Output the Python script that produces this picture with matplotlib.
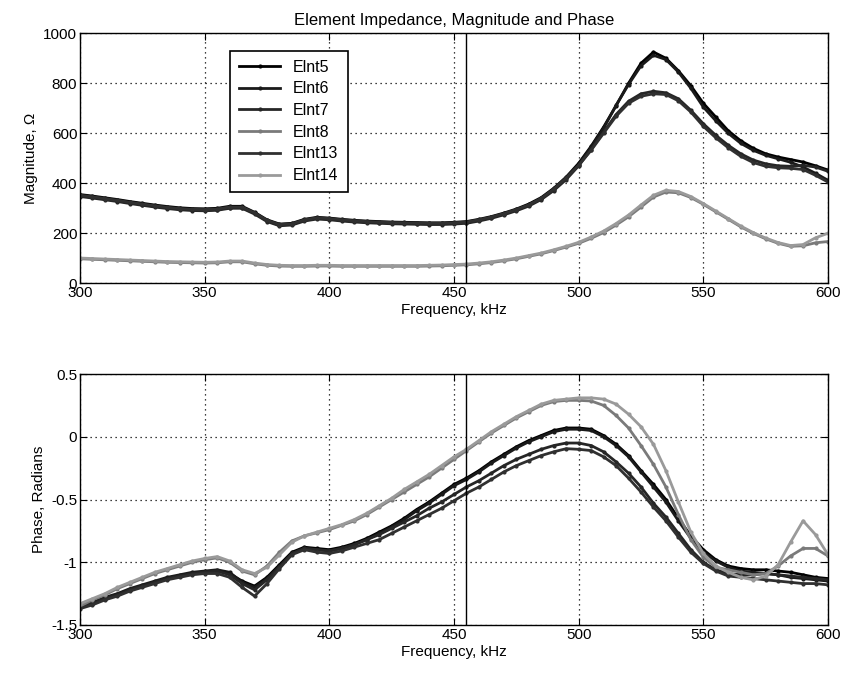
import numpy as np
import matplotlib

matplotlib.use("Agg")
import matplotlib.pyplot as plt

plt.rcParams["font.family"] = ["Liberation Sans", "DejaVu Sans"]

# frequency grid, kHz
freq = np.arange(300, 601, 5)

# impedance magnitude, ohms
mag_elnt5 = [355, 349, 342, 335, 327, 320, 313, 307, 302, 299, 298, 300, 308, 308, 284, 254,
             237, 240, 256, 264, 261, 256, 252, 249, 247, 245, 244, 243, 242, 242, 244, 247,
             256, 267, 281, 297, 317, 343, 380, 425, 480, 548, 625, 710, 800, 880, 925, 900,
             850, 790, 720, 665, 610, 570, 540, 518, 505, 495, 485, 470, 453]
mag_elnt6 = [350, 344, 337, 330, 322, 315, 308, 302, 297, 294, 293, 295, 303, 303, 280, 250,
             233, 236, 252, 260, 257, 252, 248, 245, 243, 241, 240, 239, 238, 238, 240, 243,
             252, 263, 277, 293, 312, 338, 375, 420, 475, 545, 620, 712, 795, 870, 912, 895,
             845, 780, 705, 650, 600, 560, 532, 512, 498, 484, 465, 440, 412]
mag_elnt7 = [347, 341, 334, 327, 319, 312, 305, 299, 294, 291, 290, 292, 300, 300, 277, 247,
             230, 233, 249, 257, 254, 249, 245, 242, 240, 238, 237, 236, 235, 235, 237, 240,
             249, 260, 274, 290, 309, 335, 371, 415, 470, 535, 605, 675, 728, 758, 768, 762,
             738, 692, 638, 592, 552, 518, 493, 478, 470, 468, 472, 465, 448]
mag_elnt13 = [352, 346, 339, 332, 324, 317, 310, 304, 299, 296, 295, 297, 305, 305, 282, 252,
              235, 238, 254, 262, 259, 254, 250, 247, 245, 243, 242, 241, 240, 240, 242, 245,
              254, 265, 279, 295, 314, 340, 377, 422, 472, 532, 600, 668, 720, 748, 758, 755,
              730, 685, 628, 582, 542, 508, 483, 468, 462, 460, 455, 432, 405]
mag_elnt8 = [98, 96, 94, 92, 90, 88, 86, 84, 83, 82, 81, 82, 86, 86, 78, 72,
             69, 68, 68, 69, 69, 68, 68, 68, 68, 68, 68, 68, 69, 70, 72, 74,
             78, 83, 90, 98, 108, 118, 131, 145, 160, 180, 203, 233, 266, 305, 345, 365,
             362, 343, 316, 286, 256, 226, 200, 178, 160, 148, 150, 162, 167]
mag_elnt14 = [101, 99, 97, 95, 93, 91, 89, 87, 86, 85, 84, 85, 89, 89, 81, 75,
              72, 71, 71, 72, 72, 71, 71, 71, 71, 71, 71, 71, 72, 73, 75, 77,
              81, 86, 93, 101, 111, 121, 134, 148, 164, 185, 209, 239, 273, 313, 352, 372,
              367, 347, 319, 289, 259, 229, 203, 181, 163, 151, 155, 182, 200]

# impedance phase, radians
ph_elnt5 = [-1.36, -1.33, -1.29, -1.26, -1.22, -1.19, -1.16, -1.13, -1.11, -1.09, -1.08, -1.07,
            -1.09, -1.15, -1.19, -1.12, -1.02, -0.92, -0.88, -0.89, -0.90, -0.88, -0.85, -0.81,
            -0.76, -0.71, -0.65, -0.58, -0.52, -0.45, -0.38, -0.33, -0.27, -0.20, -0.14, -0.08,
            -0.03, 0.01, 0.05, 0.07, 0.07, 0.06, 0.01, -0.06, -0.15, -0.27, -0.38, -0.50,
            -0.65, -0.79, -0.90, -0.98, -1.03, -1.05, -1.06, -1.06, -1.07, -1.08, -1.10, -1.12,
            -1.13]
ph_elnt6 = [-1.35, -1.32, -1.28, -1.25, -1.21, -1.18, -1.15, -1.12, -1.10, -1.08, -1.07, -1.06,
            -1.08, -1.16, -1.20, -1.13, -1.03, -0.93, -0.89, -0.90, -0.91, -0.89, -0.86, -0.82,
            -0.77, -0.72, -0.66, -0.59, -0.53, -0.46, -0.39, -0.34, -0.28, -0.21, -0.15, -0.09,
            -0.04, 0.00, 0.04, 0.06, 0.06, 0.05, 0.00, -0.07, -0.16, -0.28, -0.40, -0.52,
            -0.67, -0.81, -0.92, -0.99, -1.04, -1.07, -1.08, -1.09, -1.10, -1.12, -1.13, -1.14,
            -1.15]
ph_elnt7 = [-1.36, -1.33, -1.29, -1.26, -1.22, -1.19, -1.16, -1.13, -1.11, -1.09, -1.08, -1.07,
            -1.10, -1.17, -1.22, -1.14, -1.04, -0.93, -0.89, -0.90, -0.91, -0.89, -0.86, -0.82,
            -0.78, -0.73, -0.68, -0.63, -0.57, -0.52, -0.46, -0.40, -0.35, -0.29, -0.23, -0.18,
            -0.14, -0.10, -0.07, -0.05, -0.05, -0.07, -0.12, -0.20, -0.29, -0.40, -0.53, -0.64,
            -0.77, -0.90, -1.00, -1.06, -1.09, -1.10, -1.10, -1.09, -1.10, -1.11, -1.12, -1.13,
            -1.14]
ph_elnt13 = [-1.37, -1.34, -1.30, -1.27, -1.23, -1.20, -1.17, -1.14, -1.12, -1.10, -1.09, -1.09,
             -1.12, -1.20, -1.27, -1.17, -1.05, -0.94, -0.90, -0.92, -0.93, -0.91, -0.88, -0.85,
             -0.82, -0.77, -0.72, -0.67, -0.62, -0.57, -0.51, -0.45, -0.40, -0.34, -0.28, -0.23,
             -0.19, -0.15, -0.12, -0.095, -0.10, -0.11, -0.16, -0.23, -0.33, -0.44, -0.56, -0.67,
             -0.80, -0.92, -1.01, -1.07, -1.11, -1.12, -1.13, -1.14, -1.15, -1.16, -1.17, -1.17,
             -1.18]
ph_elnt8 = [-1.35, -1.30, -1.26, -1.21, -1.17, -1.13, -1.09, -1.06, -1.03, -1.00, -0.98, -0.965,
            -1.00, -1.07, -1.10, -1.03, -0.92, -0.83, -0.79, -0.765, -0.74, -0.705, -0.67, -0.62,
            -0.56, -0.50, -0.44, -0.38, -0.32, -0.25, -0.18, -0.11, -0.04, 0.03, 0.09, 0.15,
            0.20, 0.25, 0.28, 0.29, 0.29, 0.285, 0.25, 0.17, 0.07, -0.07, -0.22, -0.40,
            -0.62, -0.82, -0.96, -1.04, -1.06, -1.08, -1.10, -1.09, -1.03, -0.95, -0.89, -0.89,
            -0.95]
ph_elnt14 = [-1.33, -1.29, -1.25, -1.20, -1.16, -1.12, -1.08, -1.05, -1.02, -0.99, -0.97, -0.955,
             -0.99, -1.06, -1.09, -1.04, -0.94, -0.84, -0.79, -0.76, -0.73, -0.70, -0.66, -0.61,
             -0.55, -0.49, -0.42, -0.36, -0.30, -0.23, -0.16, -0.10, -0.03, 0.04, 0.10, 0.16,
             0.21, 0.26, 0.29, 0.30, 0.31, 0.31, 0.30, 0.26, 0.18, 0.08, -0.06, -0.27,
             -0.52, -0.76, -0.93, -1.03, -1.08, -1.12, -1.14, -1.11, -1.02, -0.84, -0.67, -0.78,
             -0.94]

labels = ["Elnt5", "Elnt6", "Elnt7", "Elnt8", "Elnt13", "Elnt14"]
mags = [mag_elnt5, mag_elnt6, mag_elnt7, mag_elnt8, mag_elnt13, mag_elnt14]
phases = [ph_elnt5, ph_elnt6, ph_elnt7, ph_elnt8, ph_elnt13, ph_elnt14]
shades = ["#000000", "#1a1a1a", "#262626", "#7a7a7a", "#303030", "#9a9a9a"]

marker_freq = 455  # kHz

fig = plt.figure(figsize=(8.46, 6.75), dpi=100)
ax_mag = fig.add_axes([0.0946, 0.5803, 0.8841, 0.3704])
ax_ph = fig.add_axes([0.0946, 0.0741, 0.8841, 0.3718])

for lab, m, p, c in zip(labels, mags, phases, shades):
    ax_mag.plot(freq, m, color=c, linewidth=2.0, marker=".", markersize=4, label=lab)
    ax_ph.plot(freq, p, color=c, linewidth=2.0, marker=".", markersize=4, label=lab)

for ax in (ax_mag, ax_ph):
    ax.axvline(marker_freq, color="black", linewidth=1.0)
    ax.set_xlim(300, 600)
    ax.set_xticks(np.arange(300, 601, 50))
    ax.grid(True, color="black", linestyle=(0, (1, 3)), linewidth=0.9)
    ax.tick_params(direction="in", top=True, right=True, labelsize=11, length=5, pad=2)
    ax.set_xlabel("Frequency, kHz", fontsize=11, labelpad=2)
    for s in ax.spines.values():
        s.set_linewidth(1.0)

ax_mag.set_ylim(0, 1000)
ax_mag.set_yticks(np.arange(0, 1001, 200))
ax_mag.set_ylabel("Magnitude, \u03a9", fontsize=11)
ax_mag.set_title("Element Impedance, Magnitude and Phase", fontsize=12, pad=6)

ax_ph.set_ylim(-1.5, 0.5)
ax_ph.set_yticks([-1.5, -1, -0.5, 0, 0.5])
ax_ph.set_yticklabels(["-1.5", "-1", "-0.5", "0", "0.5"])
ax_ph.set_ylabel("Phase, Radians", fontsize=11)

leg = ax_mag.legend(loc="upper left", bbox_to_anchor=(0.19, 0.962), fontsize=11.5,
                    frameon=True, fancybox=False, edgecolor="black", framealpha=1,
                    numpoints=1, handlelength=2.6, labelspacing=0.42, borderpad=0.55)
leg.get_frame().set_linewidth(1.2)

fig.savefig("out.png", dpi=100)
